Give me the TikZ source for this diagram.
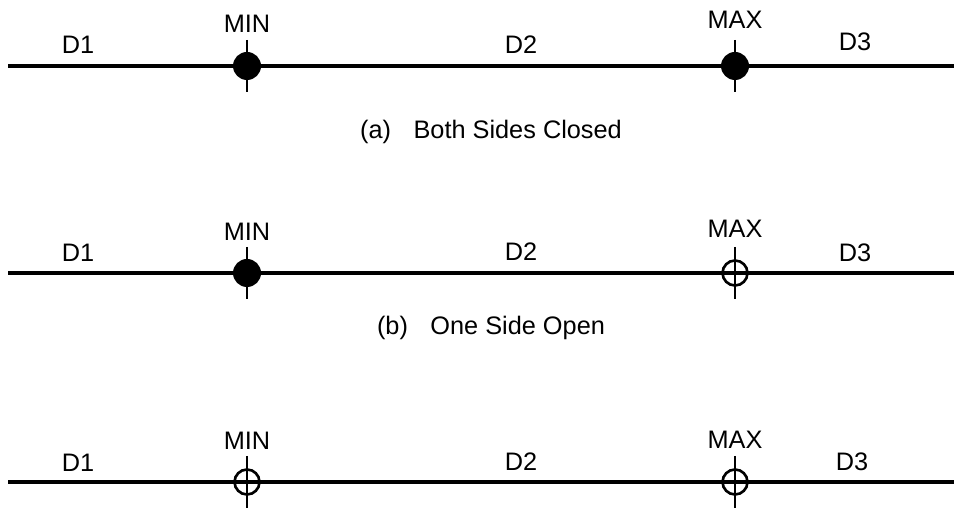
\documentclass[tikz,border=0pt]{standalone}
\usepackage{fontspec}
\setmainfont{Liberation Sans}

\begin{document}
\begin{tikzpicture}[thick]
\tikzset{
  closed/.style={
    circle, fill=black, inner sep=0pt, minimum size=0.56cm
  },
  open/.style={
    circle, draw, line width=1.5pt, inner sep=0pt, minimum size=0.5cm
  },
  lbl/.style={font=\fontsize{14.4}{16}\selectfont, inner sep=0pt},
  axis/.style={line width=2pt},
  tick/.style={line width=1.5pt}
}
\useasboundingbox (0,0) rectangle (19.08,-10.2);

% (a) both sides closed
\coordinate (a0) at (0.16,-1.32);
\coordinate (a1) at (19.08,-1.32);
\node[closed] (aMin) at (4.94,-1.32) {};
\node[closed] (aMax) at (14.7,-1.32) {};
\draw[axis] (a0) -- (a1);
\draw[tick] ([yshift=0.52cm]aMin.center) -- ([yshift=-0.52cm]aMin.center);
\draw[tick] ([yshift=0.52cm]aMax.center) -- ([yshift=-0.52cm]aMax.center);
\node[lbl] (aD1)  at (1.56,-0.9)   {D1};
\node[lbl] (aMinL) at (4.94,-0.48) {MIN};
\node[lbl] (aD2)  at (10.42,-0.9)  {D2};
\node[lbl] (aMaxL) at (14.7,-0.4)  {MAX};
\node[lbl] (aD3)  at (17.1,-0.84)  {D3};
\node[lbl] (aCap) at (9.82,-2.64)  {(a)\hspace{0.45cm}Both Sides Closed};

% (b) one side open
\coordinate (b0) at (0.16,-5.46);
\coordinate (b1) at (19.08,-5.46);
\node[closed] (bMin) at (4.94,-5.46) {};
\node[open]   (bMax) at (14.7,-5.46) {};
\draw[axis] (b0) -- (b1);
\draw[tick] ([yshift=0.52cm]bMin.center) -- ([yshift=-0.52cm]bMin.center);
\draw[tick] ([yshift=0.52cm]bMax.center) -- ([yshift=-0.52cm]bMax.center);
\node[lbl] (bD1)  at (1.56,-5.06)  {D1};
\node[lbl] (bMinL) at (4.94,-4.64) {MIN};
\node[lbl] (bD2)  at (10.42,-5.04) {D2};
\node[lbl] (bMaxL) at (14.7,-4.58) {MAX};
\node[lbl] (bD3)  at (17.1,-5.06)  {D3};
\node[lbl] (bCap) at (9.82,-6.56)  {(b)\hspace{0.45cm}One Side Open};

% (c) both sides open
\coordinate (c0) at (0.16,-9.64);
\coordinate (c1) at (19.08,-9.64);
\node[open] (cMin) at (4.94,-9.64) {};
\node[open] (cMax) at (14.7,-9.64) {};
\draw[axis] (c0) -- (c1);
\draw[tick] ([yshift=0.52cm]cMin.center) -- ([yshift=-0.52cm]cMin.center);
\draw[tick] ([yshift=0.52cm]cMax.center) -- ([yshift=-0.52cm]cMax.center);
\node[lbl] (cD1)  at (1.56,-9.26)  {D1};
\node[lbl] (cMinL) at (4.94,-8.82) {MIN};
\node[lbl] (cD2)  at (10.42,-9.24) {D2};
\node[lbl] (cMaxL) at (14.7,-8.8)  {MAX};
\node[lbl] (cD3)  at (17.04,-9.24) {D3};
\end{tikzpicture}
\end{document}
